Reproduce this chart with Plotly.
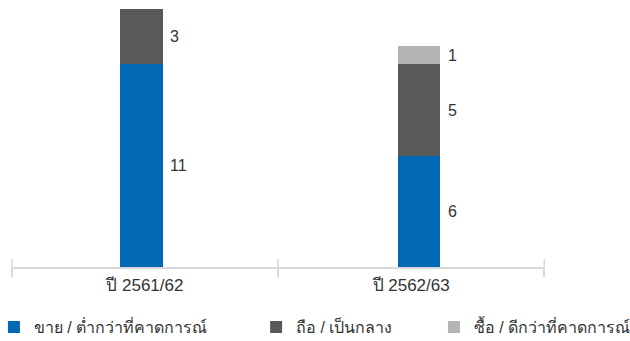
import plotly.graph_objects as go

categories = ["ปี 2561/62", "ปี 2562/63"]
series_names = ["ขาย / ต่ำกว่าที่คาดการณ์", "ถือ / เป็นกลาง", "ซื้อ / ดีกว่าที่คาดการณ์"]
sell = [11, 6]
hold = [3, 5]
buy = [0, 1]
colors = ["#0068B5", "#595959", "#B3B3B3"]

values = [sell, hold, buy]
font_family = "Liberation Sans, Arial, sans-serif"
text_color = "#333333"

plot_w = 534  # px width of plot area
bar_w = 0.16
offsets = [-0.093, -0.05]  # bars sit slightly off the category centre, as in the original

fig = go.Figure()
legend_ids = ["legend", "legend2", "legend3"]
for name, vals, col, lg in zip(series_names, values, colors, legend_ids):
    fig.add_trace(go.Bar(x=categories, y=vals, name=name, marker=dict(color=col, line=dict(width=0)),
                         width=bar_w, offset=offsets, legend=lg, showlegend=True, hoverinfo="skip"))

# value labels to the right of each segment
for i, cat in enumerate(categories):
    base = 0
    shift = (offsets[i] + bar_w) * plot_w / 2 + 5
    for vals in values:
        v = vals[i]
        if v:
            fig.add_annotation(x=cat, y=base + v / 2, text=str(v), showarrow=False,
                               xanchor="left", yanchor="middle", xshift=shift,
                               font=dict(size=16, color=text_color, family=font_family))
        base += v

# small tick marks above the axis line at category boundaries
for xb in [-0.5, 0.5, 1.5]:
    fig.add_shape(type="line", xref="x", yref="paper", x0=xb, x1=xb, y0=0, y1=8 / 258,
                  line=dict(color="#D9D9D9", width=1.5))

leg_common = dict(orientation="h", yanchor="middle", xanchor="left", y=-0.233,
                  font=dict(size=16, color=text_color, family=font_family),
                  bgcolor="rgba(0,0,0,0)", itemclick=False, itemdoubleclick=False)
fig.update_layout(
    barmode="stack",
    width=630, height=341,
    showlegend=True,
    margin=dict(l=11, r=85, t=9, b=74, autoexpand=False),
    plot_bgcolor="white", paper_bgcolor="white",
    font=dict(family=font_family, color=text_color),
    xaxis=dict(showline=True, linecolor="#D9D9D9", linewidth=1.5, ticks="outside",
               tickson="boundaries", ticklen=8, tickcolor="#D9D9D9", tickwidth=1.5,
               ticklabelstandoff=2,
               tickfont=dict(size=17, color=text_color), showgrid=False),
    yaxis=dict(range=[0, 14], visible=False, showgrid=False),
    legend=dict(x=-0.032, **leg_common),
    legend2=dict(x=0.459, **leg_common),
    legend3=dict(x=0.792, **leg_common),
)

fig.write_html("out.html", config={"displayModeBar": False},
               post_script="document.body.style.margin='0';")
